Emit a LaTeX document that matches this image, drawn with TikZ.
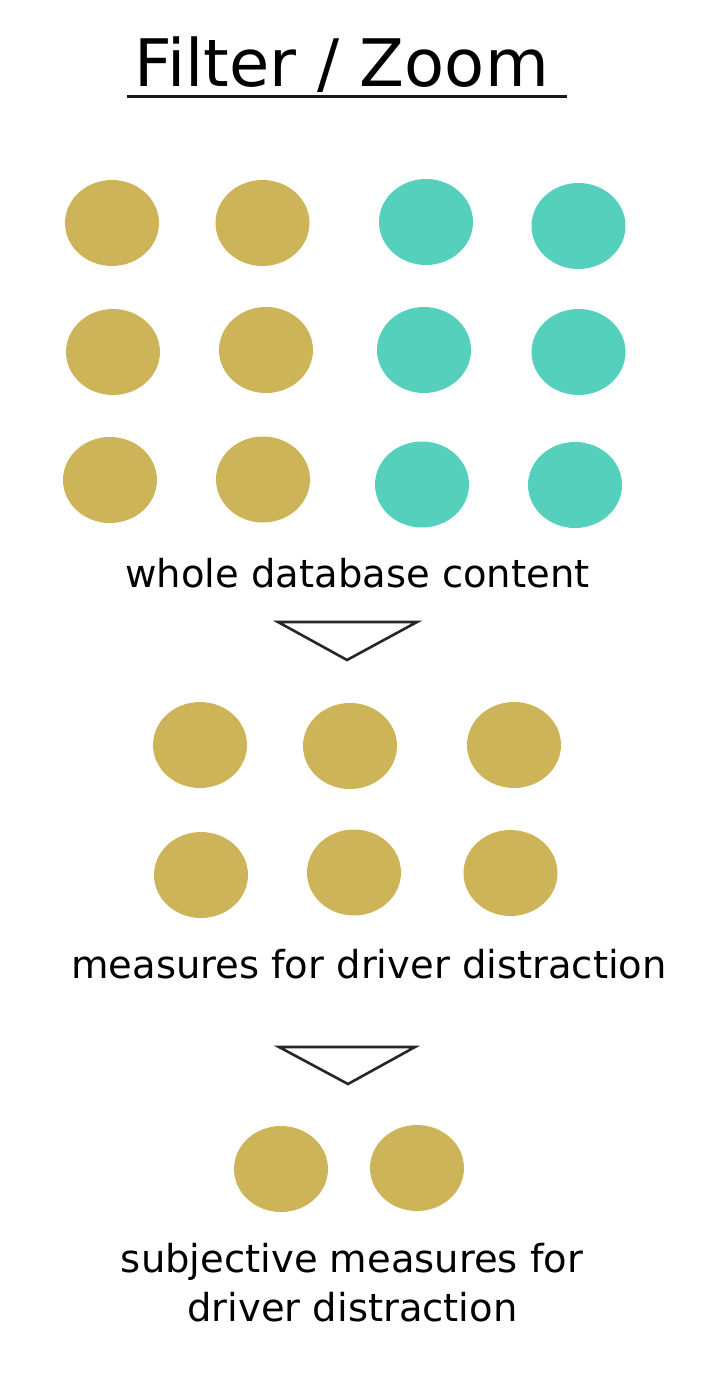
\documentclass[tikz,border=0pt]{standalone}
\usepackage{fontspec}
\setmainfont{DejaVu Sans}
\usetikzlibrary{shapes.geometric}
\definecolor{goldc}{RGB}{206,180,88}
\definecolor{tealc}{RGB}{85,208,189}
\tikzset{
  dot/.style={ellipse, minimum width=94pt, minimum height=86pt, inner sep=0pt, draw=none},
  golddot/.style={dot, fill=goldc},
  tealdot/.style={dot, fill=tealc},
  label/.style={anchor=base, inner sep=0pt, font=\fontsize{38.5}{46}\selectfont, text=black},
  titletext/.style={anchor=base, inner sep=0pt, font=\fontsize{65.5}{72}\selectfont, text=black},
  funnel/.style={draw=black!85, fill=white, line width=2.6pt, line join=miter}
}
\begin{document}
\begin{tikzpicture}[x=1pt,y=-1pt]
\useasboundingbox (0,0) rectangle (714,1380);
% title
\node[titletext] (title) at (341.5,87) {Filter / Zoom};
\coordinate (ulL) at (127,96.5);
\coordinate (ulR) at (567,96.5);
\draw[line width=2.6pt, black!90] (ulL) -- (ulR);
% whole database
\node[golddot] (r1a) at (112,223) {};
\node[golddot] (r1b) at (262.5,223) {};
\node[tealdot] (r1c) at (426,222) {};
\node[tealdot] (r1d) at (578.5,226) {};
\node[golddot] (r2a) at (113,352) {};
\node[golddot] (r2b) at (266,350) {};
\node[tealdot] (r2c) at (424,350) {};
\node[tealdot] (r2d) at (578.5,352) {};
\node[golddot] (r3a) at (110,480) {};
\node[golddot] (r3b) at (263,479.5) {};
\node[tealdot] (r3c) at (422,484.5) {};
\node[tealdot] (r3d) at (575,485) {};
\node[label] (whole) at (357.5,587) {whole database content};
% funnel 1
\coordinate (f1L) at (278,622);
\coordinate (f1R) at (417,622);
\coordinate (f1B) at (347,660);
\draw[funnel] (f1L) -- (f1R) -- (f1B) -- cycle;
% measures
\node[golddot] (r4a) at (200,745) {};
\node[golddot] (r4b) at (350,746) {};
\node[golddot] (r4c) at (514,745) {};
\node[golddot] (r5a) at (201,875) {};
\node[golddot] (r5b) at (354,872.5) {};
\node[golddot] (r5c) at (510.5,873) {};
\node[label] (meas) at (369,978) {measures for driver distraction};
% funnel 2
\coordinate (f2L) at (279,1047);
\coordinate (f2R) at (415,1047);
\coordinate (f2B) at (348,1084);
\draw[funnel] (f2L) -- (f2R) -- (f2B) -- cycle;
% subjective
\node[golddot] (r6a) at (281,1169) {};
\node[golddot] (r6b) at (417,1168) {};
\node[label] (sub1) at (352,1272) {subjective measures for};
\node[label] (sub2) at (352.5,1321) {driver distraction};
\end{tikzpicture}
\end{document}
